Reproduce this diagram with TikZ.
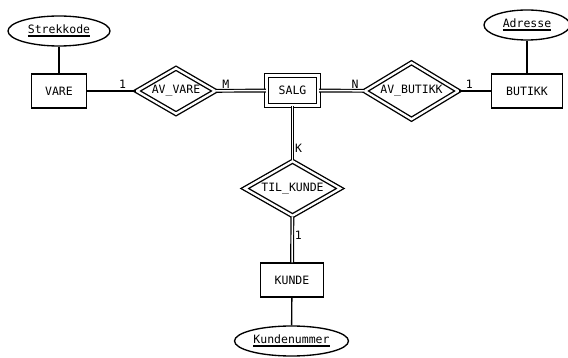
\documentclass[tikz,border=0pt]{standalone}
\usepackage{fontspec}
\setmainfont{DejaVu Sans Mono}
\usetikzlibrary{shapes.geometric}

% understreket nokkelattributt
\newcommand{\nokkel}[1]{\setbox0\hbox{#1}\rlap{\rule[-2.8pt]{\wd0}{1.4pt}}\box0}

\tikzset{
  ent/.style={draw,rectangle,minimum height=34pt},
  svak/.style={draw,rectangle,double,double distance=3.1pt,minimum width=52pt,minimum height=30pt},
  rel/.style={draw,diamond,double,double distance=2.3pt,inner sep=0pt,shape aspect=1.7},
  attr/.style={draw,ellipse,minimum height=30pt,inner sep=1pt},
  tot/.style={double,double distance=1.5pt,line width=1.2pt},
  kard/.style={inner sep=2pt}
}

\begin{document}
\begin{tikzpicture}[x=1pt,y=-1pt,line width=1.35pt,font=\fontsize{11.5}{13}\selectfont]
  \useasboundingbox (0,0) rectangle (568,358);

  \node (vare) at (59,91) [ent,minimum width=55pt]{VARE};
  \node (avvare) at (176,91) [rel,minimum width=79pt,minimum height=46pt]{AV\_VARE};
  \node (salg) at (292.5,90.5) [svak]{SALG};
  \node (avbutikk) at (411.5,91) [rel,minimum width=94pt,minimum height=57pt]{AV\_BUTIKK};
  \node (butikk) at (527,91) [ent,minimum width=71pt]{BUTIKK};
  \node (tilkunde) at (292.5,188.5) [rel,minimum width=96pt,minimum height=55pt]{TIL\_KUNDE};
  \node (kunde) at (292,280) [ent,minimum width=63pt]{KUNDE};

  \node (strekkode) at (59,31) [attr,minimum width=102pt]{\nokkel{Strekkode}};
  \node (adresse) at (527,25) [attr,minimum width=86pt]{\nokkel{Adresse}};
  \node (kundenr) at (291.5,341) [attr,minimum width=114pt]{\nokkel{Kundenummer}};

  \draw (strekkode) -- (vare);
  \draw (adresse) -- (butikk);
  \draw (kundenr) -- (kunde);

  \draw (vare) -- node[kard,above,pos=0.73](k1){1} (avvare);
  \draw[tot] (avvare) -- node[kard,above,pos=0.2](km){M} (salg);
  \draw[tot] (salg) -- node[kard,above,pos=0.8](kn){N} (avbutikk);
  \draw (avbutikk) -- node[kard,above,pos=0.32](k2){1} (butikk);
  \draw[tot] (salg) -- node[kard,right,pos=0.78](kk){K} (tilkunde);
  \draw[tot] (tilkunde) -- node[kard,right,pos=0.4](k3){1} (kunde);

\end{tikzpicture}
\end{document}
